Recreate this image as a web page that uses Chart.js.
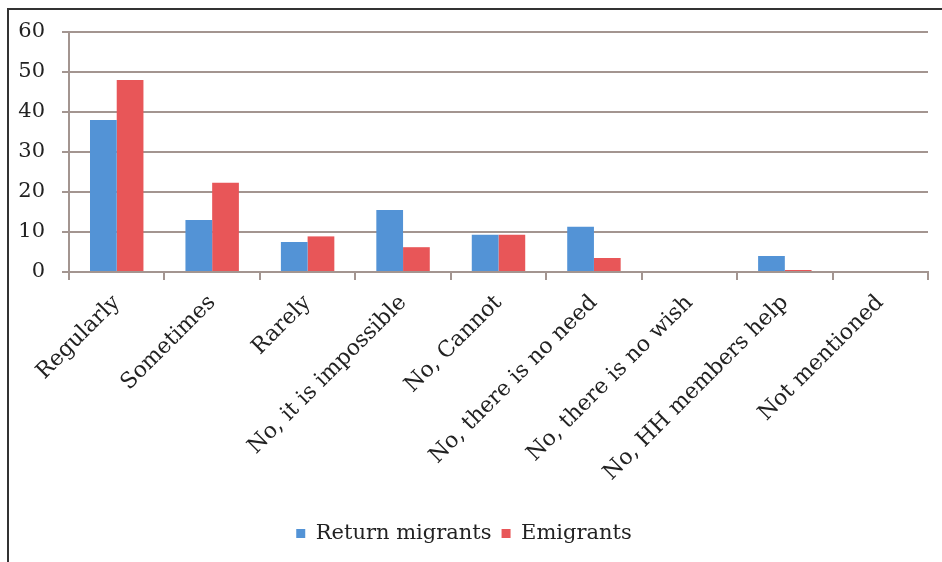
<!DOCTYPE html>
<html>
<head>
<meta charset="utf-8">
<script src="https://cdn.jsdelivr.net/npm/chart.js@4"></script>
<style>
  body { margin: 0; background: #fff; }
  .wrap { position: relative; width: 942px; height: 562px; }
  .frame { position: absolute; left: 7px; top: 8px; right: 0; bottom: 0; border-left: 2px solid #333; border-top: 2px solid #333; }
  canvas { position: absolute; left: 0; top: 0; }
</style>
</head>
<body>
<div class="wrap">
  <div class="frame"></div>
  <canvas id="chart" width="942" height="562"></canvas>
</div>
<script>
const categories = ['Regularly', 'Sometimes', 'Rarely', 'No, it is impossible', 'No, Cannot',
  'No, there is no need', 'No, there is no wish', 'No, HH members help', 'Not mentioned'];
const returnMigrants = [38, 13, 7.5, 15.5, 9.3, 11.3, 0, 4, 0];
const emigrants = [48, 22.3, 8.9, 6.2, 9.3, 3.5, 0, 0.5, 0];
const yTicks = [0, 10, 20, 30, 40, 50, 60];

const serif = "'DejaVu Serif', serif";
const lineCol = '#a39590';

new Chart(document.getElementById('chart'), {
  type: 'bar',
  data: {
    labels: categories,
    datasets: [
      { label: 'Return migrants', data: returnMigrants, backgroundColor: '#5393d6' },
      { label: 'Emigrants', data: emigrants, backgroundColor: '#e85658' }
    ]
  },
  options: {
    responsive: false,
    animation: false,
    layout: { padding: { top: 32, right: 14, bottom: 8, left: 0 } },
    datasets: { bar: { categoryPercentage: 0.56, barPercentage: 1 } },
    plugins: {
      legend: {
        position: 'bottom',
        labels: { boxWidth: 9, boxHeight: 9, color: '#222', font: { family: serif, size: 21 } }
      },
      tooltip: { enabled: false }
    },
    scales: {
      x: {
        grid: { drawOnChartArea: false, drawTicks: true, tickLength: 8, color: lineCol, lineWidth: 2 },
        border: { color: lineCol, width: 2 },
        ticks: { color: '#222', font: { family: serif, size: 22 }, minRotation: 45, maxRotation: 45, padding: 10 },
        afterFit: s => { s.height = 241; }
      },
      y: {
        min: 0,
        max: 60,
        afterBuildTicks: s => { s.ticks = yTicks.map(v => ({ value: v })); },
        grid: { color: lineCol, lineWidth: 2, tickLength: 7 },
        border: { color: lineCol, width: 2 },
        ticks: { color: '#222', font: { family: serif, size: 21 }, padding: 17 },
        afterFit: s => { s.width = 69; }
      }
    }
  }
});
</script>
</body>
</html>
